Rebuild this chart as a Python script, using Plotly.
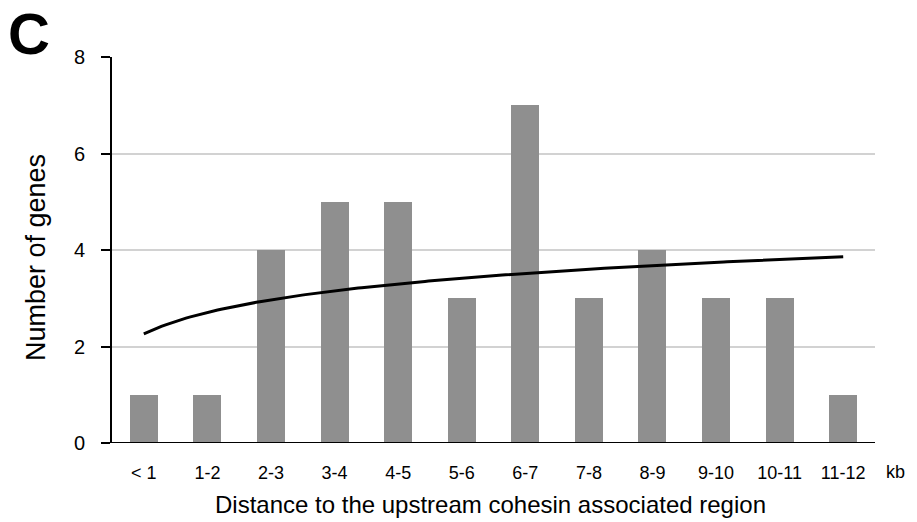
import numpy as np
import plotly.graph_objects as go

# Gene counts per distance bin (kb) to the upstream cohesin associated region
bins = ["< 1", "1-2", "2-3", "3-4", "4-5", "5-6", "6-7", "7-8", "8-9", "9-10", "10-11", "11-12"]
gene_counts = [1, 1, 4, 5, 5, 3, 7, 3, 4, 3, 3, 1]
y_ticks = [0, 2, 4, 6, 8]

pos = np.arange(1, len(bins) + 1)

# Logarithmic trend line fitted to the counts: y = a*ln(x) + b
a, b = np.polyfit(np.log(pos), gene_counts, 1)
xs = np.linspace(1, len(bins), 200)
ys = a * np.log(xs) + b

FONT = "Liberation Sans, Arial, Helvetica, sans-serif"

# plot area geometry in pixels (used to place the free-standing labels)
L, R, T, B = 112, 42, 57, 79
W, H = 917, 522
PW, PH = W - L - R, H - T - B


def px_x(x):
    return (x - L) / PW


def px_y(y):
    return (H - B - y) / PH


fig = go.Figure()
fig.add_trace(go.Bar(x=pos, y=gene_counts, width=0.44,
                     marker=dict(color="#8f8f8f", line=dict(width=0)),
                     showlegend=False, hoverinfo="skip"))
fig.add_trace(go.Scatter(x=xs, y=ys, mode="lines",
                         line=dict(color="black", width=3),
                         showlegend=False, hoverinfo="skip"))

fig.update_layout(
    width=W, height=H,
    margin=dict(l=L, r=R, t=T, b=B),
    plot_bgcolor="white", paper_bgcolor="white",
    font=dict(family=FONT, color="black"),
    bargap=0,
    xaxis=dict(range=[0.5, len(bins) + 0.5], tickmode="array", tickvals=pos, ticktext=bins,
               showgrid=False, zeroline=False, showline=False, ticks="",
               tickfont=dict(size=18), ticklabelstandoff=17),
    yaxis=dict(range=[0, 8], tickmode="array", tickvals=y_ticks,
               showgrid=True, gridcolor="#d2d2d2", gridwidth=2,
               zeroline=False, showline=True, linecolor="black", linewidth=2,
               ticks="outside", ticklen=9, tickwidth=2, tickcolor="black",
               tickfont=dict(size=20), ticklabelstandoff=12),
)

# Baseline along the bottom of the plot, extending under the y-axis tick
fig.add_shape(type="line", xref="paper", yref="y", x0=px_x(103), x1=1, y0=0, y1=0,
              line=dict(color="black", width=2))

# Axis titles
fig.add_annotation(text="Distance to the upstream cohesin associated region",
                   xref="paper", yref="paper", x=px_x(490), y=px_y(504),
                   xanchor="center", yanchor="middle", showarrow=False, font=dict(size=24))
fig.add_annotation(text="Number of genes", textangle=-90,
                   xref="paper", yref="paper", x=px_x(36), y=px_y(258),
                   xanchor="center", yanchor="middle", showarrow=False, font=dict(size=27))

fig.add_annotation(text="kb", xref="paper", yref="paper", x=px_x(884), y=px_y(472),
                   xanchor="left", yanchor="middle", showarrow=False, font=dict(size=18))
fig.add_annotation(text="<b>C</b>", xref="paper", yref="paper", x=px_x(7), y=px_y(0),
                   xanchor="left", yanchor="top", showarrow=False, borderpad=0,
                   font=dict(size=58, family=FONT))

fig.write_html("out.html")
